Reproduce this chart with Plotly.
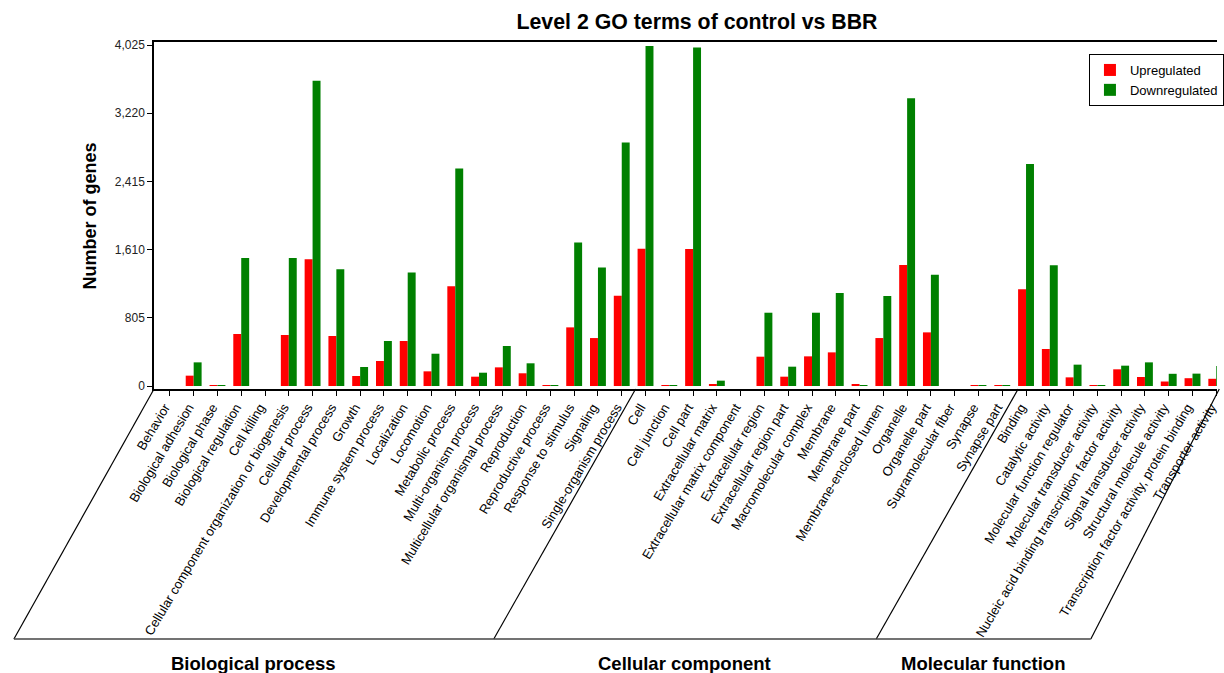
import plotly.graph_objects as go

bp_terms = ["Behavior", "Biological adhesion", "Biological phase", "Biological regulation",
            "Cell killing", "Cellular component organization or biogenesis", "Cellular process",
            "Developmental process", "Growth", "Immune system process", "Localization",
            "Locomotion", "Metabolic process", "Multi-organism process",
            "Multicellular organismal process", "Reproduction", "Reproductive process",
            "Response to stimulus", "Signaling", "Single-organism process"]
cc_terms = ["Cell", "Cell junction", "Cell part", "Extracellular matrix",
            "Extracellular matrix component", "Extracellular region", "Extracellular region part",
            "Macromolecular complex", "Membrane", "Membrane part", "Membrane-enclosed lumen",
            "Organelle", "Organelle part", "Supramolecular fiber", "Synapse", "Synapse part"]
mf_terms = ["Binding", "Catalytic activity", "Molecular function regulator",
            "Molecular transducer activity", "Nucleic acid binding transcription factor activity",
            "Signal transducer activity", "Structural molecule activity",
            "Transcription factor activity, protein binding", "Transporter activity"]

bp_up = [0, 122, 2, 614, 0, 602, 1495, 590, 118, 295, 531, 173, 1176, 110, 220, 150, 3, 692, 566, 1066]
bp_down = [0, 279, 3, 1510, 0, 1510, 3603, 1377, 224, 531, 1341, 381, 2568, 157, 472, 268, 3, 1695, 1400, 2875]
cc_up = [1620, 3, 1616, 24, 0, 346, 110, 350, 397, 12, 566, 1428, 633, 0, 3, 3]
cc_down = [4012, 3, 3996, 63, 0, 865, 228, 865, 1097, 10, 1062, 3395, 1314, 0, 3, 3]
mf_up = [1141, 437, 102, 3, 197, 106, 53, 92, 85]
mf_down = [2620, 1424, 252, 3, 240, 279, 144, 146, 236]

y_ticks = [0, 805, 1610, 2415, 3220, 4025]
groups = ["Biological process", "Cellular component", "Molecular function"]

categories = bp_terms + cc_terms + mf_terms
up = bp_up + cc_up + mf_up
down = bp_down + cc_down + mf_down

W, H = 1224, 673
L, R, T, B = 154, 0, 42, 284
pw, ph = W - L - R, H - T - B
xmin, xmax = -0.668, 44.03
unit = pw / (xmax - xmin)

def px_x(p):
    return (p - L) / pw

def px_y(p):
    return (T + ph - p) / ph

def cat_px(i):
    return L + (i - xmin) * unit

fig = go.Figure()
fig.add_trace(go.Bar(x=categories, y=up, name="Upregulated", marker_color="#FF0000",
                     marker_line_width=0))
fig.add_trace(go.Bar(x=categories, y=down, name="Downregulated", marker_color="#008000",
                     marker_line_width=0))

shelf = 639
n_bp, n_cc = len(bp_terms), len(cc_terms)
shapes = []
line = dict(color="black", width=1.2)
# (top px, bottom px) of the slanted group separators
seps = [(L, 13),
        (cat_px(n_bp - 0.5) + 2, 496),
        (cat_px(n_bp + n_cc - 0.5) + 4, 881),
        (cat_px(len(categories) - 1) + 3, 1097)]
for top, bot in seps:
    shapes.append(dict(type="line", xref="paper", yref="paper", x0=px_x(top), y0=0,
                       x1=px_x(bot), y1=px_y(shelf), line=line))
shapes.append(dict(type="line", xref="paper", yref="paper", x0=px_x(seps[0][1]), y0=px_y(shelf),
                   x1=px_x(seps[-1][1]), y1=px_y(shelf), line=dict(color="#444", width=1.5)))

group_centers = [254, 688, 988]
annotations = []
for g, cx in zip(groups, group_centers):
    annotations.append(dict(text="<b>%s</b>" % g, xref="paper", yref="paper",
                            x=px_x(cx), y=px_y(663), showarrow=False,
                            font=dict(family="Arial", size=18.5, color="black"),
                            xanchor="center", yanchor="middle"))
annotations.append(dict(text="<b>Number of genes</b>", xref="paper", yref="paper",
                        x=px_x(90), y=px_y(216), showarrow=False, textangle=-90,
                        font=dict(family="Arial", size=18, color="black"),
                        xanchor="center", yanchor="middle"))

fig.update_layout(
    width=W, height=H,
    margin=dict(l=L, r=R, t=T, b=B, pad=0),
    paper_bgcolor="white", plot_bgcolor="white",
    barmode="group", bargap=0.332, bargroupgap=0,
    title=dict(text="<b>Level 2 GO terms of control vs BBR</b>", x=697 / W, xref="container",
               xanchor="center", y=1 - 22 / H, yref="container", yanchor="middle",
               font=dict(family="Arial", size=21.3, color="black")),
    font=dict(family="Arial", color="black"),
    legend=dict(x=1 + 7 / pw, xanchor="right", y=px_y(54), yanchor="top",
                bordercolor="black", borderwidth=1, bgcolor="white",
                font=dict(family="Arial", size=13, color="black"),
                tracegroupgap=0, itemwidth=30),
    shapes=shapes,
    annotations=annotations,
)
fig.update_xaxes(range=[xmin, xmax], tickangle=-59, ticks="outside", ticklen=5,
                 tickcolor="black", showline=True, linecolor="black", linewidth=1.5,
                 mirror=True, showgrid=False, ticklabelshift=-5, ticklabelstandoff=-1,
                 tickfont=dict(family="Arial", size=13, color="black"))
fig.update_yaxes(range=[-35.4, 4060.4], tickvals=y_ticks, tickformat=",d", ticks="outside",
                 ticklen=5, tickcolor="black", showline=True, linecolor="black", linewidth=1.5,
                 showgrid=False, zeroline=False,
                 tickfont=dict(family="Arial", size=12, color="#222"))

fig.write_html("out.html", config={"displayModeBar": False},
               post_script="document.body.style.margin='0';document.body.style.overflow='hidden';")
